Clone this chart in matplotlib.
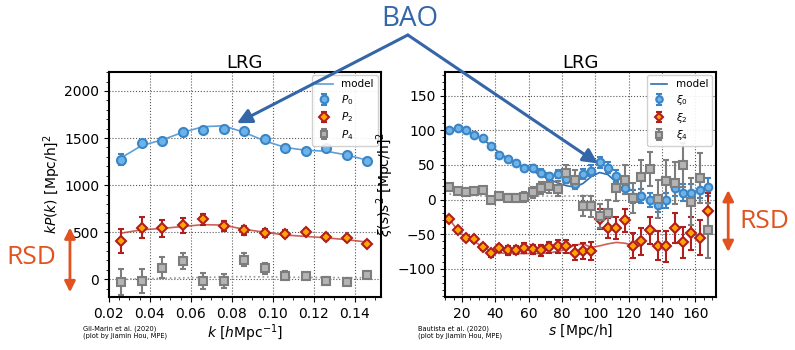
import numpy as np
import matplotlib
matplotlib.use('Agg')
import matplotlib.pyplot as plt
from matplotlib.patches import FancyArrowPatch
from matplotlib.ticker import AutoMinorLocator

# ---- power spectrum multipoles (Gil-Marin et al. 2020)
k = [0.026, 0.036, 0.046, 0.056, 0.066, 0.076, 0.086, 0.096, 0.106,
     0.116, 0.126, 0.136, 0.146]
p0 = [1270, 1446, 1471, 1566, 1584, 1601, 1577, 1485, 1393, 1365, 1390, 1319, 1259]
p0_err = [55, 35, 28, 25, 22, 20, 18, 17, 16, 15, 14, 13, 12]
p2 = [406, 547, 543, 571, 635, 564, 518, 490, 483, 501, 448, 434, 377]
p2_err = [125, 110, 90, 75, 60, 55, 50, 40, 35, 35, 33, 30, 25]
p4 = [-28, -18, 123, 197, -18, -14, 208, 116, 39, 32, -18, -25, 49]
p4_err = [140, 130, 110, 85, 85, 75, 70, 55, 50, 45, 40, 40, 35]
p0_model = [1290, 1420, 1480, 1560, 1620, 1630, 1560, 1470, 1400, 1370, 1360, 1320, 1265]
p2_model = [490, 525, 540, 560, 580, 575, 530, 500, 470, 455, 440, 420, 395]
p4_model = [0, 5, 10, 15, 20, 25, 28, 25, 22, 20, 18, 17, 16]

# ---- correlation function multipoles (Bautista et al. 2020)
s = [12.5 + 5 * i for i in range(32)]
xi0 = [100.5, 103, 101, 93, 88.5, 77.5, 64.5, 59, 52.4, 45, 45.5, 38.5, 34, 37, 30, 22,
       37, 41.8, 53.9, 45.7, 33.7, 16.4, 4.3, 4.8, -0.5, -7.7, -1.4, 16.3, 10, 10, 14.4, 17.8]
xi0_err = [2, 2, 2, 2, 2, 3, 3, 3, 3, 4, 4, 5, 5, 6, 6, 7,
           7, 8, 8, 8, 9, 9, 10, 10, 10, 11, 11, 11, 12, 12, 12, 13]
xi2 = [-27.9, -44.7, -55.3, -57.7, -68.8, -77.4, -70.2, -73.6, -72.7, -70, -72, -73.6,
       -68.8, -67.8, -67.8, -77, -74.5, -74, -28, -41, -41, -30, -67, -60.6, -44.7,
       -67, -67.8, -41, -62, -48.6, -55, -16]
xi2_err = [3, 3, 3, 4, 4, 5, 5, 6, 6, 7, 7, 8, 8, 9, 10, 11,
           12, 13, 14, 15, 16, 17, 18, 19, 20, 21, 22, 22, 23, 24, 25, 26]
xi4 = [17.8, 12, 11.5, 12, 14, -1.4, 4.8, 2.4, 2.4, 3.4, 10.6, 16.8, 18.8, 15.4, 38, 28.9,
       -9.6, -9.6, -24, -19.2, 16.8, 28.9, 2.4, 33, 44.2, 1, 27.4, 23.6, 50, -2.9, 30.8, -44.7]
xi4_err = [3, 3, 3, 4, 4, 4, 5, 5, 6, 7, 8, 9, 10, 11, 12, 13,
           14, 15, 17, 18, 19, 21, 22, 24, 25, 27, 29, 30, 32, 34, 36, 40]
s_model = s[:24]
xi0_model = [101, 102, 100, 94, 87, 78, 67, 59, 52, 46, 41, 35, 29, 24, 20, 18,
             23, 33, 39, 36, 25, 12, 2, -5]
xi2_model = [-28, -45, -55, -61, -68, -75, -77, -78, -78, -78, -78, -78, -77, -75, -72, -66,
             -64, -69, -67, -64, -62, -63, -66, -67]
s4_model = s[:18]
xi4_model = [8, 7, 6, 6, 5, 5, 5, 5, 5, 5, 5, 5, 5, 5, 5, 5, 6, 6]

blue_face, blue_edge = '#6db3e8', '#3b85c6'
red_edge, orange = '#b01e1e', '#ffa500'
grey_face, grey_edge = '#b4b4b4', '#7d7d7d'
bao_col = '#3466a8'
rsd_col = '#e0521e'

fig = plt.figure(figsize=(7.95, 3.5), dpi=100)
ax1 = fig.add_axes([0.137, 0.151, 0.342, 0.643])
ax2 = fig.add_axes([0.560, 0.151, 0.340, 0.643])


def style(ax):
    ax.grid(True, ls=':', color='0.35', lw=0.8)
    ax.xaxis.set_minor_locator(AutoMinorLocator())
    ax.yaxis.set_minor_locator(AutoMinorLocator())
    ax.tick_params(which='both', direction='out', labelsize=10)
    ax.tick_params(which='minor', length=2)
    for sp in ax.spines.values():
        sp.set_linewidth(1.5)


def legend(ax):
    ax.legend(loc='upper right', fontsize=7.5, handlelength=1.6, labelspacing=0.35,
              markerscale=0.85, borderpad=0.4, framealpha=0.9, borderaxespad=0.3)


# left panel
ax1.plot(k, p0_model, color='#5d9fd8', lw=1.2, label='model')
ax1.plot(k, p2_model, color='#c0392b', lw=1.2, alpha=0.8)
ax1.plot(k, p4_model, color='0.6', lw=1.2, ls=':')
ax1.errorbar(k, p0, p0_err, fmt='o', ms=6.5, mfc=blue_face, mec=blue_edge, mew=1.5,
             ecolor=blue_edge, elinewidth=1.5, capsize=2, label='$P_0$')
ax1.errorbar(k, p2, p2_err, fmt='D', ms=5.5, mfc=orange, mec=red_edge, mew=1.5,
             ecolor=red_edge, elinewidth=1.5, capsize=2, label='$P_2$')
ax1.errorbar(k, p4, p4_err, fmt='s', ms=5.5, mfc=grey_face, mec=grey_edge, mew=1.5,
             ecolor=grey_edge, elinewidth=1.5, capsize=2, label='$P_4$')
ax1.set_xlim(0.02, 0.1527)
ax1.set_ylim(-190, 2200)
ax1.set_xticks([0.02, 0.04, 0.06, 0.08, 0.10, 0.12, 0.14])
ax1.set_yticks([0, 500, 1000, 1500, 2000])
style(ax1)
ax1.set_xlabel('$k$ [$h$Mpc$^{-1}$]', fontsize=10, labelpad=1)
ax1.set_ylabel('$kP(k)$ [Mpc/h]$^2$', fontsize=10, labelpad=1)
ax1.set_title('LRG', fontsize=13, pad=3)
legend(ax1)

# right panel
ax2.plot(s_model, xi0_model, color='#2e6db2', lw=1.2, label='model')
ax2.plot(s_model, xi2_model, color='#c0392b', lw=1.2, alpha=0.8)
ax2.plot(s4_model, xi4_model, color='0.6', lw=1.2, ls=':')
ax2.errorbar(s, xi0, xi0_err, fmt='o', ms=5.5, mfc=blue_face, mec=blue_edge, mew=1.5,
             ecolor=blue_edge, elinewidth=1.5, capsize=2, label=r'$\xi_0$')
ax2.errorbar(s, xi2, xi2_err, fmt='D', ms=5, mfc=orange, mec=red_edge, mew=1.5,
             ecolor=red_edge, elinewidth=1.5, capsize=2, label=r'$\xi_2$')
ax2.errorbar(s, xi4, xi4_err, fmt='s', ms=5.5, mfc=grey_face, mec=grey_edge, mew=1.5,
             ecolor=grey_edge, elinewidth=1.5, capsize=2, label=r'$\xi_4$')
ax2.set_xlim(10, 172)
ax2.set_ylim(-141, 184)
ax2.set_xticks([20, 40, 60, 80, 100, 120, 140, 160])
ax2.set_yticks([-100, -50, 0, 50, 100, 150])
style(ax2)
ax2.set_xlabel('$s$ [Mpc/h]', fontsize=10, labelpad=1)
ax2.set_ylabel(r'$\xi(s)s^2$ [Mpc/h]$^2$', fontsize=10, labelpad=1)
ax2.set_title('LRG', fontsize=13, pad=3)
legend(ax2)

# credits
fig.text(0.104, 0.032, 'Gil-Marin et al. (2020)\n(plot by Jiamin Hou, MPE)',
         fontsize=4.8, va='bottom', linespacing=1.1)
fig.text(0.526, 0.032, 'Bautista et al. (2020)\n(plot by Jiamin Hou, MPE)',
         fontsize=4.8, va='bottom', linespacing=1.1)

# BAO annotation
fig.text(0.516, 0.945, 'BAO', fontsize=20, color=bao_col, ha='center', va='center',
         family='Open Sans')
arrow = dict(arrowstyle='-|>', color=bao_col, lw=2.2, mutation_scale=22, shrinkA=0, shrinkB=0)
fig.add_artist(FancyArrowPatch((0.513, 0.90), (0.298, 0.648),
                               transform=fig.transFigure, **arrow))
fig.add_artist(FancyArrowPatch((0.513, 0.90), (0.752, 0.533),
                               transform=fig.transFigure, **arrow))

# RSD annotations
rsd = dict(arrowstyle='<|-|>', color=rsd_col, lw=2, mutation_scale=16, shrinkA=0, shrinkB=0)
fig.add_artist(FancyArrowPatch((0.088, 0.350), (0.088, 0.165),
                               transform=fig.transFigure, **rsd))
fig.add_artist(FancyArrowPatch((0.916, 0.457), (0.916, 0.280),
                               transform=fig.transFigure, **rsd))
fig.text(0.040, 0.263, 'RSD', fontsize=19, color=rsd_col, ha='center', va='center',
         family='Open Sans')
fig.text(0.962, 0.366, 'RSD', fontsize=19, color=rsd_col, ha='center', va='center',
         family='Open Sans')

fig.savefig('out.png', dpi=100)
